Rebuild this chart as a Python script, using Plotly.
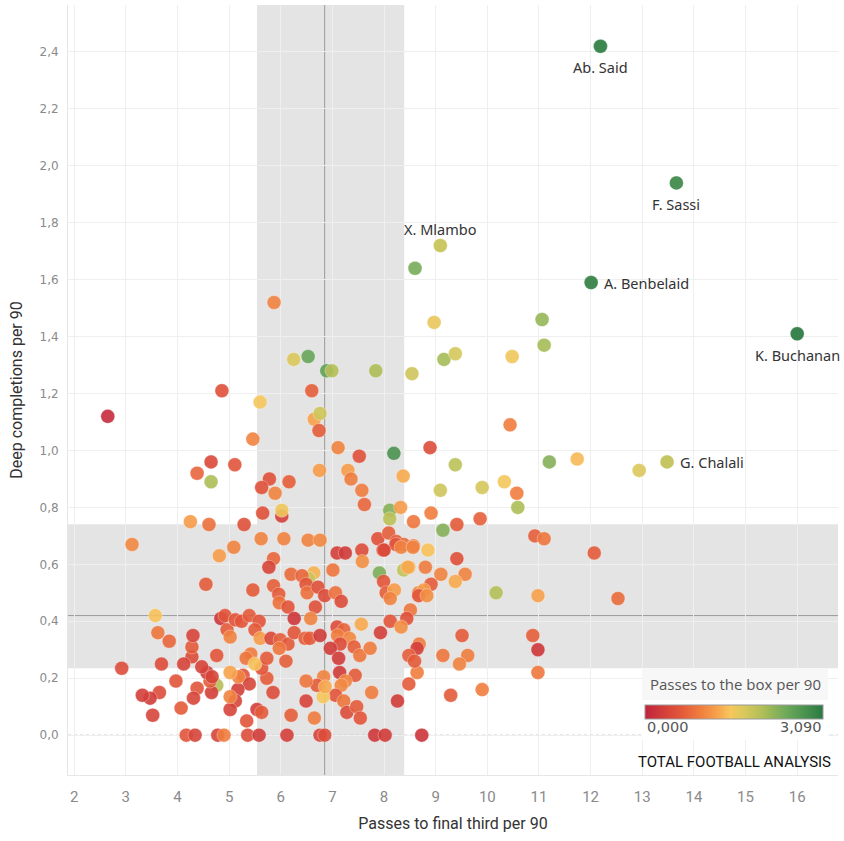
import plotly.graph_objects as go

# ---------------- data ----------------
label_names = ["Ab. Said", "F. Sassi", "A. Benbelaid", "K. Buchanan", "G. Chalali", "X. Mlambo"]
label_x = [12.19, 13.66, 12.01, 16.0, 13.48, 9.09]
label_y = [2.42, 1.94, 1.59, 1.41, 0.96, 1.72]
label_c = [3.0, 2.85, 2.95, 3.05, 1.9, 1.85]
label_side = ["below", "below", "right", "below", "right", "above"]

passes_final_third = [
    8.60, 8.97, 9.16, 9.38, 11.06, 11.10, 10.48, 8.54, 12.94, 11.74, 11.20, 10.44, 8.89, 9.38, 9.09, 9.90,
    10.33, 10.57, 10.59, 8.91, 9.86, 9.41, 9.14, 10.92, 11.10, 12.07,
    5.87, 6.25, 6.53, 6.89, 6.99, 7.84, 4.86, 6.60, 2.65, 5.60, 6.65, 6.76, 6.74, 5.46, 7.11, 7.52, 8.19,
    4.65, 5.11, 4.38, 4.65, 6.75, 7.30, 7.36, 7.57, 7.62, 8.37, 5.78, 5.63, 5.89, 6.16, 5.65, 6.02, 6.02,
    5.29, 4.25, 4.61, 3.12, 5.09, 5.62, 6.06, 6.53, 6.76, 8.11, 8.11, 8.32, 8.57, 7.88, 8.09, 8.24,
    4.81, 5.86, 5.77, 7.09, 7.25, 7.57, 7.98, 8.38, 8.57, 7.58, 7.01, 6.64, 6.54, 6.20, 6.41, 6.49, 6.51,
    6.72, 6.85, 7.06, 7.17, 6.67, 5.86, 5.96, 5.97, 6.14, 5.46, 4.55, 7.91, 7.99, 8.04, 8.20, 8.12, 8.38,
    8.48, 8.67, 8.51, 8.44, 8.12, 8.33, 7.93, 7.56, 7.09, 7.22, 7.10, 7.33, 7.15, 6.96, 7.12, 7.42, 7.53,
    7.73, 8.64, 8.48, 8.26, 7.76, 7.44, 7.14, 7.25, 7.17, 7.06, 7.22, 7.28, 7.47, 7.54, 6.82, 6.83, 6.70,
    6.86, 6.49, 6.49, 6.65, 6.20, 5.85, 5.73, 5.63, 5.54, 5.63, 5.34, 5.27, 5.39, 5.17, 5.12, 5.02, 5.02,
    5.18, 5.02, 4.76, 4.66, 4.63, 4.57, 4.67, 4.47, 4.38, 4.31, 4.28, 4.28, 4.30, 4.12, 3.97, 4.07, 3.65,
    3.47, 3.32, 3.52, 3.69, 2.92, 3.84, 3.62, 3.57, 4.76, 4.84, 4.92, 4.96, 5.02, 5.12, 5.24, 5.39, 5.58,
    5.50, 5.60, 5.42, 5.33, 5.50, 5.73, 5.81, 5.99, 6.14, 5.97, 6.10, 6.26, 6.58, 6.26, 6.47, 6.56, 6.76,
    4.17, 4.34, 4.78, 4.90, 5.36, 5.58, 6.12, 6.76, 6.85, 7.82, 8.02, 8.73,
    8.23, 8.33, 8.56, 8.00, 8.85, 9.41, 8.80, 8.46, 9.10, 9.57, 9.38, 8.91, 8.77, 8.67, 8.83, 10.17,
    10.98, 12.53, 9.51, 10.88, 10.98, 8.68, 8.64, 8.48, 8.59, 9.14, 9.62, 9.46, 10.98, 9.29, 9.90,
]
deep_completions = [
    1.64, 1.45, 1.32, 1.34, 1.46, 1.37, 1.33, 1.27, 0.93, 0.97, 0.96, 1.09, 1.01, 0.95, 0.86, 0.87,
    0.89, 0.85, 0.80, 0.78, 0.76, 0.74, 0.72, 0.70, 0.69, 0.64,
    1.52, 1.32, 1.33, 1.28, 1.28, 1.28, 1.21, 1.21, 1.12, 1.17, 1.11, 1.13, 1.07, 1.04, 1.01, 0.98, 0.99,
    0.96, 0.95, 0.92, 0.89, 0.93, 0.93, 0.90, 0.86, 0.81, 0.91, 0.90, 0.87, 0.85, 0.89, 0.78, 0.77, 0.79,
    0.74, 0.75, 0.74, 0.67, 0.66, 0.69, 0.69, 0.685, 0.685, 0.79, 0.76, 0.80, 0.75, 0.69, 0.71, 0.68,
    0.63, 0.62, 0.59, 0.64, 0.64, 0.65, 0.65, 0.67, 0.665, 0.61, 0.58, 0.57, 0.55, 0.565, 0.56, 0.53, 0.50,
    0.52, 0.49, 0.50, 0.47, 0.45, 0.525, 0.495, 0.465, 0.45, 0.51, 0.53, 0.57, 0.54, 0.50, 0.51, 0.48, 0.58,
    0.59, 0.50, 0.44, 0.41, 0.40, 0.38, 0.36, 0.39, 0.38, 0.37, 0.35, 0.34, 0.32, 0.305, 0.27, 0.31, 0.28,
    0.305, 0.22, 0.18, 0.12, 0.15, 0.21, 0.22, 0.19, 0.175, 0.14, 0.12, 0.08, 0.10, 0.06, 0.135, 0.205, 0.175,
    0.17, 0.19, 0.12, 0.06, 0.07, 0.15, 0.20, 0.235, 0.09, 0.08, 0.05, 0.21, 0.18, 0.16, 0.12, 0.09, 0.135,
    0.205, 0.22, 0.175, 0.15, 0.19, 0.22, 0.205, 0.24, 0.165, 0.13, 0.275, 0.31, 0.35, 0.25, 0.19, 0.095, 0.15,
    0.13, 0.14, 0.07, 0.25, 0.235, 0.33, 0.36, 0.42, 0.28, 0.41, 0.42, 0.37, 0.345, 0.405, 0.40, 0.42, 0.40,
    0.37, 0.34, 0.285, 0.27, 0.25, 0.27, 0.34, 0.335, 0.32, 0.305, 0.26, 0.41, 0.41, 0.36, 0.34, 0.34, 0.35,
    0.0, 0.0, 0.0, 0.0, 0.0, 0.0, 0.0, 0.0, 0.0, 0.0, 0.0, 0.0,
    0.67, 0.66, 0.66, 0.65, 0.65, 0.62, 0.59, 0.59, 0.565, 0.565, 0.54, 0.53, 0.51, 0.49, 0.49, 0.50,
    0.49, 0.48, 0.35, 0.35, 0.30, 0.32, 0.305, 0.28, 0.26, 0.28, 0.28, 0.25, 0.22, 0.14, 0.16,
]
passes_to_box = [
    2.4, 1.6, 2.1, 1.75, 2.2, 2.1, 1.55, 1.8, 1.7, 1.4, 2.3, 0.95, 0.5, 1.95, 1.8, 1.75,
    1.5, 0.95, 2.05, 0.95, 0.7, 0.65, 2.3, 0.7, 0.9, 0.65,
    1.0, 1.7, 2.5, 2.55, 2.0, 2.05, 0.55, 0.7, 0.1, 1.5, 1.25, 1.8, 0.65, 1.0, 1.0, 0.55, 2.75,
    0.45, 0.6, 0.75, 2.05, 1.2, 1.2, 0.95, 0.95, 0.75, 1.3, 0.55, 0.55, 1.0, 0.7, 0.55, 0.35, 1.55,
    0.55, 1.2, 0.85, 1.05, 1.0, 1.0, 1.0, 1.0, 1.05, 2.3, 1.95, 1.2, 0.9, 0.55, 0.7, 0.65,
    1.2, 0.75, 0.4, 0.35, 0.3, 0.5, 0.6, 0.8, 0.95, 1.1, 0.9, 1.35, 1.85, 0.8, 0.75, 0.6, 0.85,
    0.55, 0.5, 0.85, 0.5, 0.55, 0.7, 0.65, 0.85, 0.6, 0.65, 0.65, 2.35, 0.6, 0.7, 1.2, 1.0, 1.9,
    1.3, 1.0, 0.9, 0.55, 0.6, 1.1, 0.35, 1.3, 0.5, 0.75, 0.95, 1.05, 0.5, 0.3, 0.3, 0.7, 0.9,
    0.95, 0.95, 0.65, 0.3, 0.95, 0.65, 0.3, 1.0, 1.05, 0.6, 0.9, 0.5, 0.65, 0.6, 1.5, 1.0, 0.65,
    1.3, 0.9, 0.4, 0.95, 0.7, 0.5, 0.65, 0.6, 0.35, 0.65, 0.6, 0.6, 0.4, 0.35, 0.4, 0.4, 1.0,
    1.0, 1.25, 2.0, 0.35, 0.65, 0.3, 0.4, 0.4, 0.6, 0.4, 0.5, 0.65, 0.4, 0.4, 0.6, 0.65, 0.5,
    0.3, 0.35, 0.4, 0.5, 0.5, 0.75, 0.9, 1.45, 0.6, 0.25, 0.6, 0.65, 1.0, 0.6, 0.6, 0.65, 0.6,
    0.65, 1.2, 0.95, 0.9, 1.45, 0.65, 0.45, 0.7, 0.65, 0.9, 0.7, 0.25, 1.0, 0.6, 0.7, 0.65, 0.3,
    0.6, 0.4, 0.4, 0.95, 0.5, 0.3, 0.35, 0.4, 0.5, 0.25, 0.3, 0.2,
    0.6, 1.0, 1.0, 0.45, 1.45, 0.55, 0.95, 1.3, 1.0, 1.0, 1.3, 0.65, 1.2, 0.6, 1.1, 2.0,
    1.25, 0.8, 0.65, 0.7, 0.25, 0.95, 0.35, 0.7, 0.65, 0.9, 0.95, 1.0, 0.9, 0.65, 0.95,
]

x_ticks = list(range(2, 17))
y_ticks = [0.0, 0.2, 0.4, 0.6, 0.8, 1.0, 1.2, 1.4, 1.6, 1.8, 2.0, 2.2, 2.4]
y_ticktext = [f"{v:.1f}".replace(".", ",") for v in y_ticks]

median_x = 6.85
median_y = 0.42
band_x = (5.54, 8.39)
band_y = (0.235, 0.741)
c_min, c_max = 0.0, 3.09

# ---------------- styling ----------------
colorscale = [
    [0.0, "#c0233b"], [0.1, "#d23d3a"], [0.2, "#e3573a"], [0.3, "#ef7a3e"],
    [0.4, "#f7a04a"], [0.48, "#f7c75c"], [0.56, "#d8c85c"], [0.66, "#b0bf57"],
    [0.8, "#6aa85a"], [1.0, "#2a7a44"],
]
W, H = 844, 841
ML, MR, MT, MB = 68, 6, 5, 66
PW, PH = W - ML - MR, H - MT - MB
NARROW = "Roboto, Liberation Sans, sans-serif"


def px2paper(px, py):
    return (px - ML) / PW, (H - MB - py) / PH


fig = go.Figure()

fig.add_trace(go.Scatter(
    x=passes_final_third, y=deep_completions, mode="markers",
    marker=dict(size=14, color=passes_to_box, colorscale=colorscale, cmin=c_min, cmax=c_max,
                opacity=0.9, line=dict(width=0.6, color="rgba(255,255,255,0.6)"),
                showscale=False),
    hoverinfo="x+y", showlegend=False,
))

bx0, by0 = px2paper(645, 719)
bx1, by1 = px2paper(823, 705)
fig.add_trace(go.Scatter(
    x=label_x, y=label_y, mode="markers", text=label_names,
    marker=dict(size=14, color=label_c, colorscale=colorscale, cmin=c_min, cmax=c_max,
                opacity=0.95, line=dict(width=0.6, color="rgba(255,255,255,0.6)"),
                showscale=True,
                colorbar=dict(orientation="h", x=(bx0 + bx1) / 2, xanchor="center",
                              y=by1, yanchor="top", len=bx1 - bx0, lenmode="fraction",
                              thickness=14, xpad=0, ypad=0, outlinecolor="#9a9a9a",
                              outlinewidth=1, showticklabels=False, ticks="")),
    hoverinfo="text", showlegend=False,
))

shapes = [
    dict(type="rect", xref="x", yref="paper", x0=band_x[0], x1=band_x[1], y0=0, y1=1,
         fillcolor="#e4e4e4", line=dict(width=0), layer="below"),
    dict(type="rect", xref="paper", yref="y", x0=0, x1=1, y0=band_y[0], y1=band_y[1],
         fillcolor="#e4e4e4", line=dict(width=0), layer="below"),
    dict(type="line", xref="x", yref="paper", x0=median_x, x1=median_x, y0=0, y1=1,
         line=dict(color="#9a9a9a", width=1), layer="between"),
    dict(type="line", xref="paper", yref="y", x0=0, x1=1, y0=median_y, y1=median_y,
         line=dict(color="#9a9a9a", width=1), layer="between"),
    dict(type="line", xref="paper", yref="y", x0=0, x1=1, y0=0, y1=0,
         line=dict(color="#bdbdbd", width=1, dash="dot"), layer="between"),
]
# legend box
lx0, ly0 = px2paper(642, 740)
lx1, ly1 = px2paper(828, 668)
tx0, ty0 = px2paper(642, 700)
shapes.append(dict(type="rect", xref="paper", yref="paper", x0=lx0, x1=lx1, y0=ly0, y1=ly1,
                   fillcolor="white", line=dict(width=0), layer="above"))
shapes.append(dict(type="rect", xref="paper", yref="paper", x0=tx0, x1=lx1, y0=ty0, y1=ly1,
                   fillcolor="#f7f7f7", line=dict(width=0), layer="above"))

annotations = []
label_font = dict(family="Noto Sans, Open Sans, sans-serif", size=14.5, color="#333333")
for name, lx, ly, side in zip(label_names, label_x, label_y, label_side):
    a = dict(x=lx, y=ly, xref="x", yref="y", text=name, showarrow=False, font=label_font)
    if side == "below":
        a.update(xanchor="center", yanchor="middle", yshift=-21)
    elif side == "above":
        a.update(xanchor="center", yanchor="middle", yshift=17)
    else:
        a.update(xanchor="left", yanchor="middle", xshift=11)
    annotations.append(a)

ax_, ay_ = px2paper(735, 684)
annotations.append(dict(xref="paper", yref="paper", x=ax_, y=ay_, text="Passes to the box per 90",
                        showarrow=False, xanchor="center", yanchor="middle",
                        font=dict(family="Open Sans, sans-serif", size=15, color="#555555")))
ax_, ay_ = px2paper(645, 727)
annotations.append(dict(xref="paper", yref="paper", x=ax_, y=ay_, text="0,000", showarrow=False,
                        xanchor="left", yanchor="middle",
                        font=dict(family="DejaVu Sans, sans-serif", size=14.5, color="#555555")))
ax_, ay_ = px2paper(824, 727)
annotations.append(dict(xref="paper", yref="paper", x=ax_, y=ay_, text="3,090", showarrow=False,
                        xanchor="right", yanchor="middle",
                        font=dict(family="DejaVu Sans, sans-serif", size=14.5, color="#555555")))
ax_, ay_ = px2paper(734, 762)
annotations.append(dict(xref="paper", yref="paper", x=ax_, y=ay_, text="TOTAL FOOTBALL ANALYSIS",
                        showarrow=False, xanchor="center", yanchor="middle",
                        font=dict(family=NARROW, size=15, color="#111111")))

fig.update_layout(
    width=W, height=H, margin=dict(l=ML, r=MR, t=MT, b=MB, autoexpand=False),
    paper_bgcolor="white", plot_bgcolor="white",
    shapes=shapes, annotations=annotations,
    xaxis=dict(range=[1.88, 16.79], tickvals=x_ticks, ticktext=[str(v) for v in x_ticks],
               showgrid=True, gridcolor="#efefef", zeroline=False, showline=True,
               linecolor="#e6e6e6", ticks="", ticklen=0, automargin=False,
               ticklabelstandoff=8,
               tickfont=dict(family=NARROW, size=15, color="#8a8a8a"),
               title=dict(text="Passes to final third per 90", standoff=12,
                          font=dict(family=NARROW, size=16, color="#333333"))),
    yaxis=dict(range=[-0.14, 2.565], tickvals=y_ticks, ticktext=y_ticktext,
               showgrid=True, gridcolor="#efefef", zeroline=False, showline=True,
               linecolor="#e6e6e6", ticks="", automargin=False,
               ticklabelstandoff=6,
               tickfont=dict(family="DejaVu Sans, sans-serif", size=12, color="#8a8a8a"),
               title=dict(text="Deep completions per 90", standoff=12,
                          font=dict(family=NARROW, size=16, color="#333333"))),
)

fig.write_html("out.html", config={"displayModeBar": False},
               post_script="document.body.style.margin='0';document.body.style.overflow='hidden';")
